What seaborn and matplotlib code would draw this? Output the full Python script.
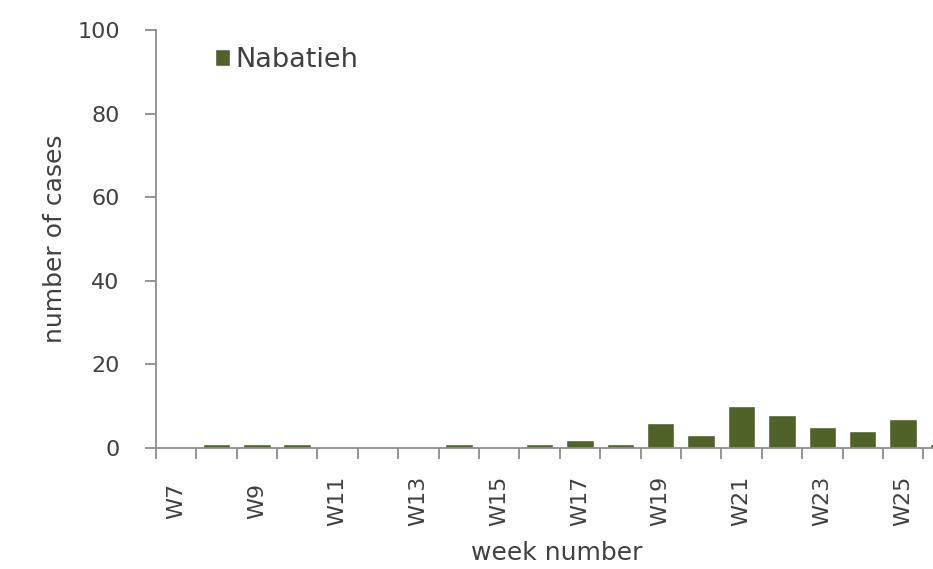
import numpy as np
import pandas as pd
import seaborn as sns
import matplotlib.pyplot as plt
from matplotlib.ticker import FixedLocator

# weekly case counts for Nabatieh
weeks = ['W7', 'W8', 'W9', 'W10', 'W11', 'W12', 'W13', 'W14', 'W15', 'W16',
         'W17', 'W18', 'W19', 'W20', 'W21', 'W22', 'W23', 'W24', 'W25', 'W26']
cases = [0, 1, 1, 1, 0, 0, 0, 1, 0, 1,
         2, 1, 6, 3, 10, 8, 5, 4, 7, 1]
series_name = 'Nabatieh'

data = pd.DataFrame({'week': weeks, 'cases': cases, 'district': series_name})

sns.set_style('white')
plt.rcParams['font.family'] = ['DejaVu Sans']

fig = plt.figure(figsize=(9.33, 5.69), dpi=100)
ax = fig.add_axes([0.167, 0.2127, 0.833, 0.7346])

sns.barplot(data=data, x='week', y='cases', hue='district', order=weeks,
            palette=['#4f6228'], width=0.68, saturation=1, ax=ax)

# axes look (Excel style)
axis_col = '#8c8c8c'
text_col = '#404040'
for s in ['top', 'right']:
    ax.spines[s].set_visible(False)
for s in ['left', 'bottom']:
    ax.spines[s].set_color(axis_col)
    ax.spines[s].set_linewidth(1.3)

ax.set_ylim(0, 100)
ax.set_yticks([0, 20, 40, 60, 80, 100])
ax.set_xlim(-0.5, 18.74)

# labels every other week, tick marks on category boundaries
ax.set_xticks(range(0, len(weeks), 2))
ax.set_xticklabels(weeks[::2], rotation=90, va='center')
ax.xaxis.set_minor_locator(FixedLocator(np.arange(-0.5, len(weeks), 1)))
ax.tick_params(axis='x', which='major', length=0, pad=38, labelsize=16, labelcolor=text_col)
ax.tick_params(axis='x', which='minor', length=8, width=1.3, color=axis_col, bottom=True)
ax.tick_params(axis='y', length=8, width=1.3, color=axis_col, left=True, pad=18,
               labelsize=16, labelcolor=text_col)

ax.set_xlabel('week number', fontsize=18, color=text_col)
ax.xaxis.set_label_coords(0.516, -0.222)
ax.set_ylabel('number of cases', fontsize=18, color=text_col)
ax.yaxis.set_label_coords(-0.114, 0.5)

ax.legend(loc='center left', bbox_to_anchor=(0.076, 0.928), frameon=False,
          borderpad=0, borderaxespad=0, fontsize=19.5, handlelength=0.55,
          handleheight=0.55, handletextpad=0.2, labelcolor=text_col)

fig.savefig('out.png', dpi=100)
